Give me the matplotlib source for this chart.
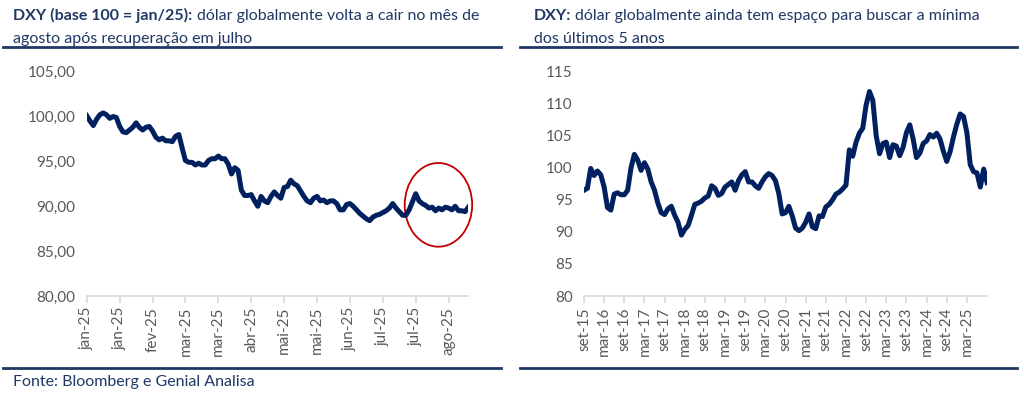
import matplotlib.pyplot as plt
from matplotlib.patches import Ellipse
from matplotlib.lines import Line2D

# DXY base 100 = jan/25 (aprox. a cada 1,4 dia útil)
dxy_2025 = [100.1, 99.5, 99.0, 99.7, 100.2, 100.4, 100.2, 99.8, 100.0, 99.9,
            98.9, 98.3, 98.2, 98.5, 98.8, 99.3, 98.8, 98.5, 98.8, 98.9,
            98.4, 97.7, 97.4, 97.6, 97.3, 97.3, 97.2, 97.8, 98.0, 96.5,
            95.1, 94.9, 94.9, 94.6, 94.8, 94.6, 94.6, 95.1, 95.3, 95.3,
            95.6, 95.3, 95.3, 94.7, 93.6, 94.3, 94.0, 91.8, 91.2, 91.2,
            91.3, 90.6, 90.0, 91.1, 90.6, 90.4, 91.1, 91.6, 91.2, 90.9,
            92.1, 92.2, 92.9, 92.5, 92.3, 91.7, 91.1, 90.6, 90.4, 90.9,
            91.1, 90.6, 90.7, 90.4, 90.6, 90.6, 90.3, 89.6, 89.6, 90.2,
            90.3, 90.0, 89.6, 89.2, 88.9, 88.6, 88.4, 88.8, 89.0, 89.1,
            89.3, 89.5, 89.8, 90.3, 89.8, 89.4, 89.0, 89.0, 89.6, 90.5,
            91.4, 90.6, 90.3, 90.1, 89.8, 89.9, 89.5, 89.8, 89.6, 89.9,
            89.8, 89.6, 90.0, 89.5, 89.5, 89.4, 89.9]
labels_2025 = ["jan-25", "jan-25", "fev-25", "mar-25", "mar-25", "abr-25",
               "mai-25", "mai-25", "jun-25", "jul-25", "jul-25", "ago-25"]

# DXY mensal set/15 - ago/25
dxy_10y = [96.5, 96.8, 99.9, 98.8, 99.5, 98.9, 97.0, 93.8, 93.4, 95.9,
           96.1, 95.8, 95.8, 96.5, 100.0, 102.1, 101.2, 99.6, 100.8, 99.8,
           97.8, 96.5, 94.5, 93.0, 92.7, 93.6, 94.0, 92.6, 91.5, 89.5,
           90.4, 91.0, 92.6, 94.3, 94.5, 94.8, 95.3, 95.6, 97.2, 96.8,
           95.7, 96.0, 97.0, 97.4, 97.8, 96.5, 98.0, 98.9, 99.4, 97.8,
           97.8, 97.2, 96.8, 97.8, 98.6, 99.1, 98.8, 98.0, 96.0, 92.8,
           93.0, 94.0, 92.5, 90.6, 90.2, 90.6, 91.5, 92.8, 90.8, 90.5,
           92.5, 92.4, 93.9, 94.3, 95.0, 95.9, 96.2, 96.7, 97.3, 102.8,
           101.8, 104.0, 105.4, 106.2, 109.8, 111.9, 110.5, 105.0, 102.2, 103.8,
           104.0, 101.6, 103.6, 103.4, 101.9, 103.2, 105.5, 106.7, 104.5, 101.6,
           102.3, 103.8, 104.2, 105.2, 104.8, 105.4, 104.5, 102.6, 101.0, 102.5,
           104.8, 106.8, 108.4, 108.0, 105.5, 100.5, 99.4, 99.2, 97.0, 99.8,
           97.7]
labels_10y = ["set-15", "mar-16", "set-16", "mar-17", "set-17", "mar-18", "set-18",
              "mar-19", "set-19", "mar-20", "set-20", "mar-21", "set-21", "mar-22",
              "set-22", "mar-23", "set-23", "mar-24", "set-24", "mar-25"]

navy = "#1f3864"
line_c = "#002060"
gray = "#595959"

plt.rcParams['font.family'] = ['Lato', 'DejaVu Sans']
fig = plt.figure(figsize=(10.24, 3.93), dpi=100)

def style(ax):
    for s in ["top", "right", "left"]:
        ax.spines[s].set_visible(False)
    ax.spines["bottom"].set_color("#d9d9d9")
    ax.spines["bottom"].set_linewidth(1.2)
    ax.tick_params(axis="x", colors="#d9d9d9", length=5, width=1.2, labelcolor=gray,
                   labelsize=11, labelrotation=90, pad=3)
    ax.tick_params(axis="y", length=0, labelcolor=gray, labelsize=11, pad=8)

# grafico 1
ax1 = fig.add_axes([0.0847, 0.2468, 0.3727, 0.5708])
ax1.plot(range(len(dxy_2025)), dxy_2025, color=line_c, lw=3.6, solid_joinstyle="round")
ax1.set_ylim(80, 105)
ax1.set_xlim(0, 116)
ax1.set_yticks(range(80, 106, 5))
ax1.set_yticklabels([f"{v},00" for v in range(80, 106, 5)])
ax1.set_xticks(range(0, 111, 10))
ax1.set_xticklabels(labels_2025)
style(ax1)
ax1.add_patch(Ellipse((106.9, 90.16), 20.5, 9.33, fill=False, edgecolor="#c00000", lw=1.3,
                      clip_on=False))

# grafico 2
ax2 = fig.add_axes([0.5703, 0.2468, 0.3936, 0.5708])
ax2.plot(range(len(dxy_10y)), dxy_10y, color=line_c, lw=3.6, solid_joinstyle="round")
ax2.set_ylim(80, 115)
ax2.set_xlim(0, 120)
ax2.set_yticks(range(80, 116, 5))
ax2.set_xticks(range(0, 115, 6))
ax2.set_xticklabels(labels_10y)
style(ax2)

# titulos (parte em negrito + resto da linha)
fig.canvas.draw()
r = fig.canvas.get_renderer()
for x0, bold, rest, line2 in [
        (0.013, "DXY (base 100 = jan/25):", "dólar globalmente volta a cair no mês de",
         "agosto após recuperação em julho"),
        (0.521, "DXY:", "dólar globalmente ainda tem espaço para buscar a mínima",
         "dos últimos 5 anos")]:
    tb = fig.text(x0, 0.948, bold, fontsize=11.5, fontweight="bold", color=navy, va="baseline")
    bb = tb.get_window_extent(r)
    fig.text(bb.x1 / fig.bbox.width + 0.004, 0.948, rest, fontsize=11.5, color=navy,
             va="baseline")
    fig.text(x0, 0.890, line2, fontsize=11.5, color=navy, va="baseline")

fig.add_artist(Line2D([0.003, 0.489], [0.880, 0.880], color=navy, lw=2))
fig.add_artist(Line2D([0.508, 0.993], [0.880, 0.880], color=navy, lw=2))
fig.add_artist(Line2D([0.003, 0.489], [0.064, 0.064], color=navy, lw=2))
fig.add_artist(Line2D([0.508, 0.993], [0.064, 0.064], color=navy, lw=2))
fig.text(0.013, 0.028, "Fonte: Bloomberg e Genial Analisa", fontsize=11.5, color=navy, va="center")

fig.savefig("out.png", dpi=100)
